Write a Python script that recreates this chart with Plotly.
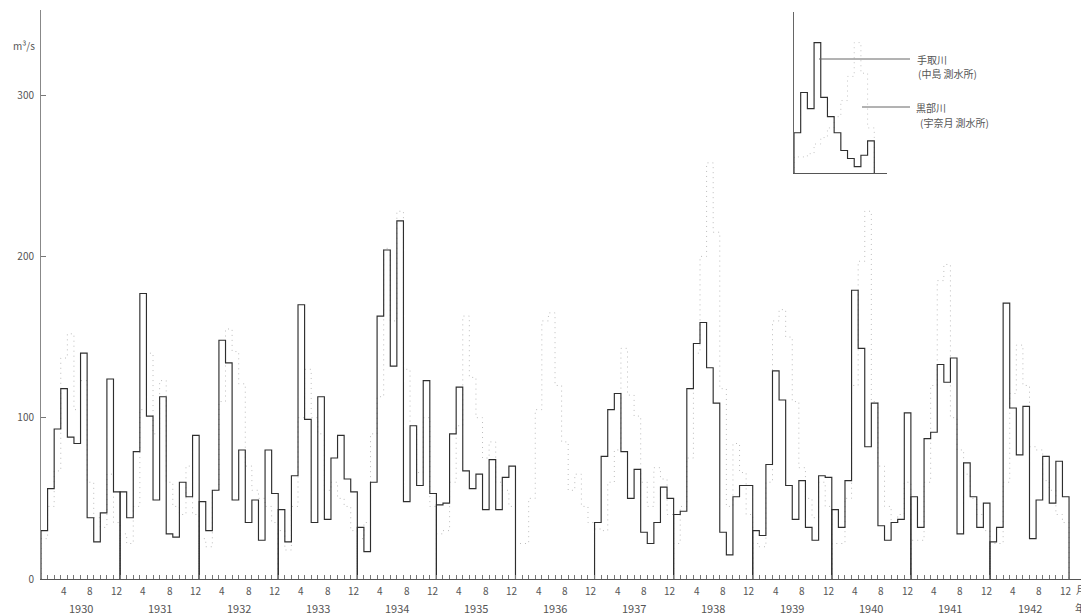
import plotly.graph_objects as go

# ---------------- data (m3/s, monthly means, Jan..Dec) ----------------
years = [1930, 1931, 1932, 1933, 1934, 1935, 1936, 1937, 1938, 1939, 1940, 1941, 1942]
month_labels = [4, 8, 12]
y_ticks = [0, 100, 200, 300]

# 手取川 (中島 測水所) — solid line; 1936 not recorded
tedori = [
    30, 56, 93, 118, 88, 84, 140, 38, 23, 41, 124, 54,      # 1930
    54, 38, 79, 177, 101, 49, 113, 28, 26, 60, 51, 89,      # 1931
    48, 30, 55, 148, 134, 49, 80, 35, 49, 24, 80, 53,       # 1932
    43, 23, 64, 170, 99, 35, 113, 37, 75, 89, 62, 54,       # 1933
    32, 17, 60, 163, 204, 132, 222, 48, 95, 58, 123, 53,    # 1934
    46, 47, 90, 119, 67, 56, 65, 43, 74, 43, 63, 70,        # 1935
    None, None, None, None, None, None, None, None, None, None, None, None,  # 1936
    35, 76, 105, 115, 79, 50, 68, 29, 22, 35, 57, 50,       # 1937
    40, 42, 118, 146, 159, 131, 109, 29, 15, 51, 58, 58,    # 1938
    30, 27, 71, 129, 111, 58, 37, 61, 32, 24, 64, 63,       # 1939
    43, 32, 61, 179, 143, 82, 109, 33, 24, 35, 37, 103,     # 1940
    51, 32, 87, 91, 133, 122, 137, 28, 72, 51, 32, 47,      # 1941
    23, 32, 171, 106, 77, 107, 25, 49, 76, 47, 73, 51,      # 1942
]

# 黒部川 (宇奈月 測水所) — dotted line
kurobe = [
    25, 45, 67, 137, 152, 105, 123, 60, 38, 32, 65, 35,     # 1930
    28, 22, 45, 105, 140, 90, 123, 60, 45, 40, 70, 40,      # 1931
    25, 20, 55, 110, 155, 141, 121, 70, 55, 50, 45, 35,     # 1932
    30, 18, 45, 100, 130, 100, 90, 55, 60, 50, 45, 30,      # 1933
    25, 35, 90, 113, 205, 160, 228, 130, 95, 66, 100, 45,   # 1934
    28, 30, 60, 95, 163, 125, 100, 75, 85, 60, 55, 45,      # 1935
    22, 22, 50, 105, 160, 165, 120, 85, 55, 65, 45, 35,     # 1936
    31, 30, 60, 80, 143, 114, 101, 60, 45, 69, 62, 40,      # 1937
    22, 45, 75, 140, 200, 258, 215, 118, 45, 84, 66, 40,    # 1938
    22, 20, 60, 160, 167, 150, 110, 69, 50, 38, 60, 45,     # 1939
    22, 22, 50, 120, 197, 228, 110, 70, 45, 35, 40, 60,     # 1940
    24, 24, 60, 120, 185, 195, 100, 80, 65, 50, 40, 30,     # 1941
    22, 22, 60, 115, 145, 120, 82, 80, 61, 55, 40, 35,      # 1942
]

# legend inset sample hydrographs
inset_tedori = [25, 50, 40, 81, 47, 35, 25, 14, 9, 4, 11, 20]
inset_kurobe = [10, 10, 12, 18, 22, 28, 35, 45, 60, 81, 62, 28]

legend_names = ["手取川", "(中島 測水所)", "黒部川", "(宇奈月 測水所)"]

# ---------------- layout helpers (page pixel coordinates) ----------------
OFF = 8                      # default body margin of the html page
W, H = 1089 - OFF, 615 - OFF
P_LEFT, P_RIGHT, P_TOP, P_BOTTOM = 41, 1085, 10, 579   # plot area on the page
ML = P_LEFT - OFF
MR = W - (P_RIGHT - OFF)
MT = P_TOP - OFF
MB = H - (P_BOTTOM - OFF)
PW = P_RIGHT - P_LEFT
PH = P_BOTTOM - P_TOP


def px(xp):
    return (xp - P_LEFT) / PW


def py(yp):
    return (P_BOTTOM - yp) / PH


def step_path(values, n_years):
    xs, ys = [], []
    for k in range(n_years):
        vals = values[12 * k:12 * k + 12]
        if any(v is None for v in vals):
            continue
        s = 12 * k
        xs += [s] + [s + i for i in range(12)] + [s + 12, s + 12, None]
        ys += [0] + list(vals) + [vals[-1], 0, None]
    return xs, ys


def inset_path(values):
    xs = [0] + list(range(12)) + [12, 12]
    ys = [0] + list(values) + [values[-1], 0]
    return xs, ys


fig = go.Figure()

kx, ky = step_path(kurobe, len(years))
fig.add_trace(go.Scatter(x=kx, y=ky, mode="lines", line_shape="hv",
                         line=dict(color="#bcbcbc", width=1.0, dash="1px,4px"),
                         name="黒部川", hoverinfo="skip"))
tx, ty = step_path(tedori, len(years))
fig.add_trace(go.Scatter(x=tx, y=ty, mode="lines", line_shape="hv",
                         line=dict(color="#2e2e2e", width=1.15),
                         name="手取川", hoverinfo="skip"))

# inset
ikx, iky = inset_path(inset_kurobe)
fig.add_trace(go.Scatter(x=ikx, y=iky, mode="lines", line_shape="hv",
                         xaxis="x2", yaxis="y2",
                         line=dict(color="#c4c4c4", width=1.0, dash="1px,4px"),
                         hoverinfo="skip"))
itx, ity = inset_path(inset_tedori)
fig.add_trace(go.Scatter(x=itx, y=ity, mode="lines", line_shape="hv",
                         xaxis="x2", yaxis="y2",
                         line=dict(color="#2e2e2e", width=1.15),
                         hoverinfo="skip"))

ymax = PH / 1.613
xmax = PW / 6.59

font_main = "Noto Sans CJK JP, Noto Sans, sans-serif"
txtc = "#555555"


def label(x, y, text, xref="paper", size=10, xanchor="center"):
    return dict(x=x, y=y, xref=xref, yref="paper", text=text, showarrow=False,
                xanchor=xanchor, yanchor="middle",
                font=dict(size=size, color=txtc, family=font_main))


annotations = []
for k, yr in enumerate(years):
    for m in month_labels:
        annotations.append(label(12 * k + m - 0.5, py(590), str(m), xref="x"))
    annotations.append(label(12 * k + 6, py(608), str(yr), xref="x", size=11))

annotations += [
    label(px(1074), py(589), "月", xanchor="left"),
    label(px(1073), py(607), "年", xanchor="left"),
    label(px(24), py(46), "m³/s"),
    label(px(915), py(59), legend_names[0], xanchor="left"),
    label(px(916), py(74), legend_names[1], xanchor="left"),
    label(px(914), py(107), legend_names[2], xanchor="left"),
    label(px(918), py(122), legend_names[3], xanchor="left"),
]

shapes = [
    dict(type="line", xref="paper", yref="paper", x0=px(819), x1=px(910),
         y0=py(59), y1=py(59), line=dict(color="#666", width=1)),
    dict(type="line", xref="paper", yref="paper", x0=px(862), x1=px(910),
         y0=py(107), y1=py(107), line=dict(color="#666", width=1)),
]

fig.update_layout(
    width=W, height=H,
    margin=dict(l=ML, r=MR, t=MT, b=MB, autoexpand=False),
    paper_bgcolor="white", plot_bgcolor="white",
    showlegend=False,
    font=dict(family=font_main, size=10, color=txtc),
    xaxis=dict(range=[0, xmax], showgrid=False, zeroline=False,
               showline=True, linecolor="#555", linewidth=1,
               tickmode="array", tickvals=list(range(0, 157)),
               ticks="inside", ticklen=4, tickcolor="#777", tickwidth=1,
               showticklabels=False),
    yaxis=dict(range=[0, ymax], showgrid=False, zeroline=False,
               showline=True, linecolor="#888", linewidth=1,
               tickmode="array", tickvals=y_ticks,
               ticks="inside", ticklen=5, tickcolor="#777",
               ticklabelstandoff=4,
               tickfont=dict(size=10, color=txtc)),
    xaxis2=dict(domain=[px(794), px(887)], range=[0, 13.9], anchor="y2",
                showgrid=False, zeroline=False, showline=True, linecolor="#555",
                ticks="", showticklabels=False),
    yaxis2=dict(domain=[py(173), py(12)], range=[0, 100], anchor="x2",
                showgrid=False, zeroline=False, showline=True, linecolor="#666",
                ticks="", showticklabels=False),
    annotations=annotations,
    shapes=shapes,
)

fig.write_html("out.html")
